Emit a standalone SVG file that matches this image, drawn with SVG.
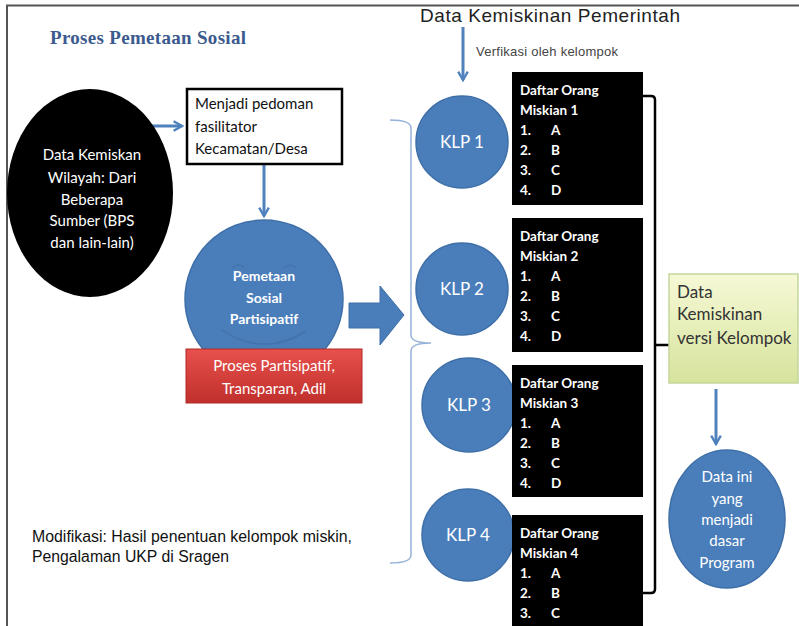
<svg xmlns="http://www.w3.org/2000/svg" width="799" height="626" viewBox="0 0 799 626">
<defs>
<style>
.cal{font-family:Lato,"Open Sans","Liberation Sans",sans-serif}
.wb{fill:#fff;font-weight:bold}
.klp{fill:#fff;font-size:17px;text-anchor:middle}
.lst{font-family:Lato,"Liberation Sans",sans-serif;font-size:13.5px;font-weight:bold;fill:#fff}
.conn{stroke:#4f81bd;stroke-width:3;fill:none}
.bc{fill:#4a7ebb;stroke:#3f6fa8;stroke-width:1.5}
</style>
<marker id="ah" viewBox="0 0 10 10" refX="8" refY="5" markerWidth="4" markerHeight="4" orient="auto">
<path d="M1,1 L8,5 L1,9" fill="none" stroke="#4f81bd" stroke-width="2"/>
</marker>
<linearGradient id="red" x1="0" y1="0" x2="0" y2="1">
<stop offset="0" stop-color="#e8504c"/><stop offset="1" stop-color="#c0302c"/>
</linearGradient>
<linearGradient id="grn" x1="0" y1="0" x2="0" y2="1">
<stop offset="0" stop-color="#f6f9d6"/><stop offset="1" stop-color="#d6e39c"/>
</linearGradient>
</defs>
<rect width="799" height="626" fill="#fff"/>
<path d="M7,626 V5.5 H799" fill="none" stroke="#555" stroke-width="2"/>

<text x="50" y="44" font-family="Liberation Serif,serif" font-weight="bold" font-size="19" fill="#3c5a8e" textLength="196">Proses Pemetaan Sosial</text>
<text x="420" y="22" font-family="Liberation Sans,Arial,sans-serif" font-size="19" fill="#222" textLength="260">Data Kemiskinan Pemerintah</text>
<text x="476" y="56" font-family="Liberation Sans,Arial,sans-serif" font-size="13" fill="#444" textLength="142">Verfikasi oleh kelompok</text>

<g id="connectors">
<line class="conn" x1="148" y1="126" x2="182" y2="126" marker-end="url(#ah)"/>
<line class="conn" x1="264" y1="164" x2="264" y2="216" marker-end="url(#ah)"/>
<line class="conn" x1="463" y1="27" x2="463" y2="80" marker-end="url(#ah)"/>
<line class="conn" x1="716" y1="389" x2="716" y2="444" marker-end="url(#ah)"/>
<path d="M349,303 H380 V286 L404,315 L380,345 V328 H349 Z" fill="#4a7ebb" stroke="#3f6fa8" stroke-width="1"/>
<path d="M390,120 Q411,120 411,128 V335 Q411,343 431,343 Q411,343 411,351 V555 Q411,563 390,563" fill="none" stroke="#95b3d7" stroke-width="1.5"/>
<path d="M643,96 H651 Q655,96 655,100 V589 Q655,593 651,593 H643 M655,345 H669" fill="none" stroke="#000" stroke-width="2.5"/>
</g>

<g id="ellipse-data">
<ellipse cx="90" cy="193" rx="83" ry="104" fill="#000"/>
<g class="cal" font-size="15" fill="#fff" text-anchor="middle">
<text x="92" y="160">Data Kemiskan</text>
<text x="92" y="183">Wilayah: Dari</text>
<text x="92" y="205">Beberapa</text>
<text x="92" y="226">Sumber (BPS</text>
<text x="92" y="248">dan lain-lain)</text>
</g>
</g>

<g id="box-pedoman">
<rect x="187" y="89" width="155" height="75" fill="#fff" stroke="#000" stroke-width="2.5"/>
<g class="cal" font-size="15" fill="#111">
<text x="195" y="109">Menjadi pedoman</text>
<text x="195" y="132">fasilitator</text>
<text x="195" y="154">Kecamatan/Desa</text>
</g>
</g>

<g id="pemetaan">
<circle cx="264" cy="299" r="79" class="bc"/>
<path d="M222,330 Q264,358 306,331" fill="none" stroke="#3a6aa0" stroke-width="1.5" opacity="0.6"/>
<path d="M232,268 Q238,262 244,268 M284,268 Q290,262 296,268" fill="none" stroke="#3a6aa0" stroke-width="1.5" opacity="0.4"/>
<g class="cal wb" font-size="14" text-anchor="middle">
<text x="264" y="281">Pemetaan</text>
<text x="264" y="303">Sosial</text>
<text x="264" y="324">Partisipatif</text>
</g>
</g>

<g id="proses">
<rect x="186" y="349" width="176" height="54" fill="url(#red)" stroke="#b02a28" stroke-width="1"/>
<g class="cal" font-size="15" fill="#fff" text-anchor="middle">
<text x="274" y="371">Proses Partisipatif,</text>
<text x="274" y="394">Transparan, Adil</text>
</g>
</g>

<g id="klp1"><circle cx="462" cy="142" r="46" class="bc"/><text x="462" y="148" class="cal klp">KLP 1</text></g>
<g id="klp2"><circle cx="462" cy="289" r="46" class="bc"/><text x="462" y="295" class="cal klp">KLP 2</text></g>
<g id="klp3"><circle cx="469" cy="405" r="47" class="bc"/><text x="469" y="411" class="cal klp">KLP 3</text></g>
<g id="klp4"><circle cx="468" cy="535" r="46" class="bc"/><text x="468" y="541" class="cal klp">KLP 4</text></g>

<g id="daftar1">
<rect x="512" y="72" width="131" height="133" fill="#000"/>
<g class="lst"><text x="520" y="95">Daftar Orang</text><text x="520" y="115">Miskian 1</text>
<text x="520" y="135">1.</text><text x="551" y="135">A</text><text x="520" y="155">2.</text><text x="551" y="155">B</text>
<text x="520" y="175">3.</text><text x="551" y="175">C</text><text x="520" y="195">4.</text><text x="551" y="195">D</text></g>
</g>
<g id="daftar2">
<rect x="512" y="218" width="131" height="134" fill="#000"/>
<g class="lst"><text x="520" y="241">Daftar Orang</text><text x="520" y="261">Miskian 2</text>
<text x="520" y="281">1.</text><text x="551" y="281">A</text><text x="520" y="301">2.</text><text x="551" y="301">B</text>
<text x="520" y="321">3.</text><text x="551" y="321">C</text><text x="520" y="341">4.</text><text x="551" y="341">D</text></g>
</g>
<g id="daftar3">
<rect x="512" y="365" width="131" height="132" fill="#000"/>
<g class="lst"><text x="520" y="388">Daftar Orang</text><text x="520" y="408">Miskian 3</text>
<text x="520" y="428">1.</text><text x="551" y="428">A</text><text x="520" y="448">2.</text><text x="551" y="448">B</text>
<text x="520" y="468">3.</text><text x="551" y="468">C</text><text x="520" y="488">4.</text><text x="551" y="488">D</text></g>
</g>
<g id="daftar4">
<rect x="512" y="515" width="131" height="115" fill="#000"/>
<g class="lst"><text x="520" y="538">Daftar Orang</text><text x="520" y="558">Miskian 4</text>
<text x="520" y="578">1.</text><text x="551" y="578">A</text><text x="520" y="598">2.</text><text x="551" y="598">B</text>
<text x="520" y="618">3.</text><text x="551" y="618">C</text></g>
</g>

<g id="versi-kelompok">
<rect x="669" y="274" width="129" height="109" fill="url(#grn)" stroke="#c3d69b" stroke-width="1.5"/>
<g class="cal" font-size="17" fill="#333">
<text x="677" y="298">Data</text>
<text x="677" y="320">Kemiskinan</text>
<text x="677" y="344">versi Kelompok</text>
</g>
</g>

<g id="dasar-program">
<ellipse cx="727" cy="519" rx="58" ry="69" class="bc"/>
<g class="cal" font-size="15" fill="#fff" text-anchor="middle">
<text x="727" y="482">Data ini</text>
<text x="727" y="504">yang</text>
<text x="727" y="525">menjadi</text>
<text x="727" y="546">dasar</text>
<text x="727" y="568">Program</text>
</g>
</g>

<g font-family="Liberation Sans,Arial,sans-serif" font-size="16" fill="#111">
<text x="32" y="542" textLength="320" lengthAdjust="spacingAndGlyphs">Modifikasi: Hasil penentuan kelompok miskin,</text>
<text x="32" y="562" textLength="197" lengthAdjust="spacingAndGlyphs">Pengalaman UKP di Sragen</text>
</g>
</svg>
